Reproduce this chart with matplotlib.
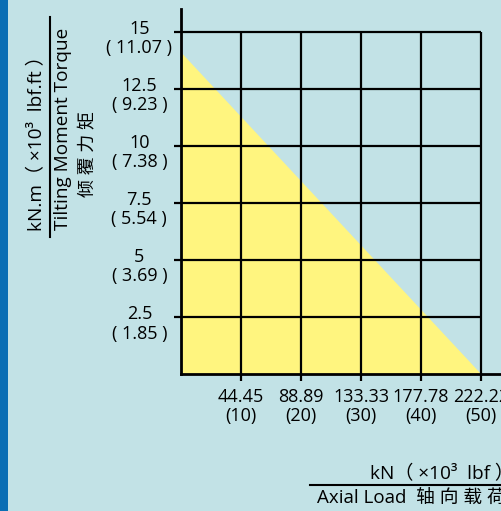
import matplotlib
matplotlib.use("Agg")
import matplotlib.pyplot as plt
from matplotlib.lines import Line2D
import matplotlib.transforms as mtransforms

plt.rcParams['font.family'] = ['Open Sans', 'Noto Sans CJK SC', 'DejaVu Sans']

# ---- data ----
x_ticks = [44.45, 88.89, 133.33, 177.78, 222.22]
x_ticks_lbf = ["10", "20", "30", "40", "50"]
y_ticks = [2.5, 5, 7.5, 10, 12.5, 15]
y_ticks_lbf = ["1.85", "3.69", "5.54", "7.38", "9.23", "11.07"]
y_tick_kn = ["2.5", "5", "7.5", "10", "12.5", "15"]
load_x = [0, 222.22]
moment_y = [14.1, 0]

W, H = 501, 511
BG = "#C2E2E6"
YELLOW = "#FFF57F"
BLUE = "#0A6EB4"

fig = plt.figure(figsize=(W / 100, H / 100), dpi=100, facecolor=BG)

def fx(x):
    return x / W

def fy(y):
    return 1 - y / H

# blue strip on the left
fig.patches.append(plt.Rectangle((0, 0), fx(8), 1, transform=fig.transFigure,
                                 facecolor=BLUE, edgecolor='none', zorder=0))

ax = fig.add_axes([fx(181), fy(374), fx(501) - fx(181), fy(9) - fy(374)])
ax.set_facecolor(BG)
ax.set_xlim(0, 237.0)
ax.set_ylim(0, 16.0)

# yellow region
ax.fill_between(load_x, moment_y, 0, color=YELLOW, lw=0, zorder=1)

# grid
lw = 1.6
for yv in y_ticks:
    ax.plot([0, x_ticks[-1]], [yv, yv], color='black', lw=lw, zorder=2,
            solid_capstyle='butt')
for xv in x_ticks:
    ax.plot([xv, xv], [0, y_ticks[-1]], color='black', lw=lw, zorder=2,
            solid_capstyle='butt')

for s in ['top', 'right']:
    ax.spines[s].set_visible(False)
for s in ['left', 'bottom']:
    ax.spines[s].set_linewidth(2.0)
    ax.spines[s].set_zorder(3)

ax.set_xticks(x_ticks)
ax.set_xticklabels([f"{a:.2f}\n({b})" for a, b in zip(x_ticks, x_ticks_lbf)],
                   fontsize=13, linespacing=1.05)
ax.set_yticks(y_ticks)
ax.set_yticklabels([f"{a}\n( {b} )" for a, b in zip(y_tick_kn, y_ticks_lbf)],
                   fontsize=13, linespacing=1.08, multialignment='center',
                   ha='center')
ax.tick_params(axis='both', length=5, width=lw, direction='out', colors='black')
ax.tick_params(axis='x', pad=5)
ax.tick_params(axis='y', pad=25)
off = mtransforms.ScaledTranslation(0, -7 / 100, fig.dpi_scale_trans)
for t in ax.get_yticklabels():
    t.set_va('center')
    t.set_transform(t.get_transform() + off)

# y-axis label (rotated)
fig.text(fx(37), fy(139), "kN.m（ ×10³  lbf.ft ）", rotation=90, ha='center',
         va='center', fontsize=13.7)
fig.text(fx(63), fy(129), "Tilting Moment Torque", rotation=90, ha='center',
         va='center', fontsize=13.7)
fig.text(fx(88), fy(154), "倾 覆 力 矩", rotation=90, ha='center',
         va='center', fontsize=13)
fig.lines.append(Line2D([fx(50), fx(50)], [fy(17), fy(237)],
                        transform=fig.transFigure, color='black', lw=1.5))

# x-axis label
fig.text(fx(370), fy(474), "kN（ ×10³  lbf ）", ha='left', va='center',
         fontsize=13.7)
fig.lines.append(Line2D([fx(310), fx(501)], [fy(485), fy(485)],
                        transform=fig.transFigure, color='black', lw=1.5))
fig.text(fx(317), fy(498), "Axial Load  轴 向 载 荷", ha='left', va='center',
         fontsize=13.5)

fig.savefig("out.png", dpi=100, facecolor=BG)
